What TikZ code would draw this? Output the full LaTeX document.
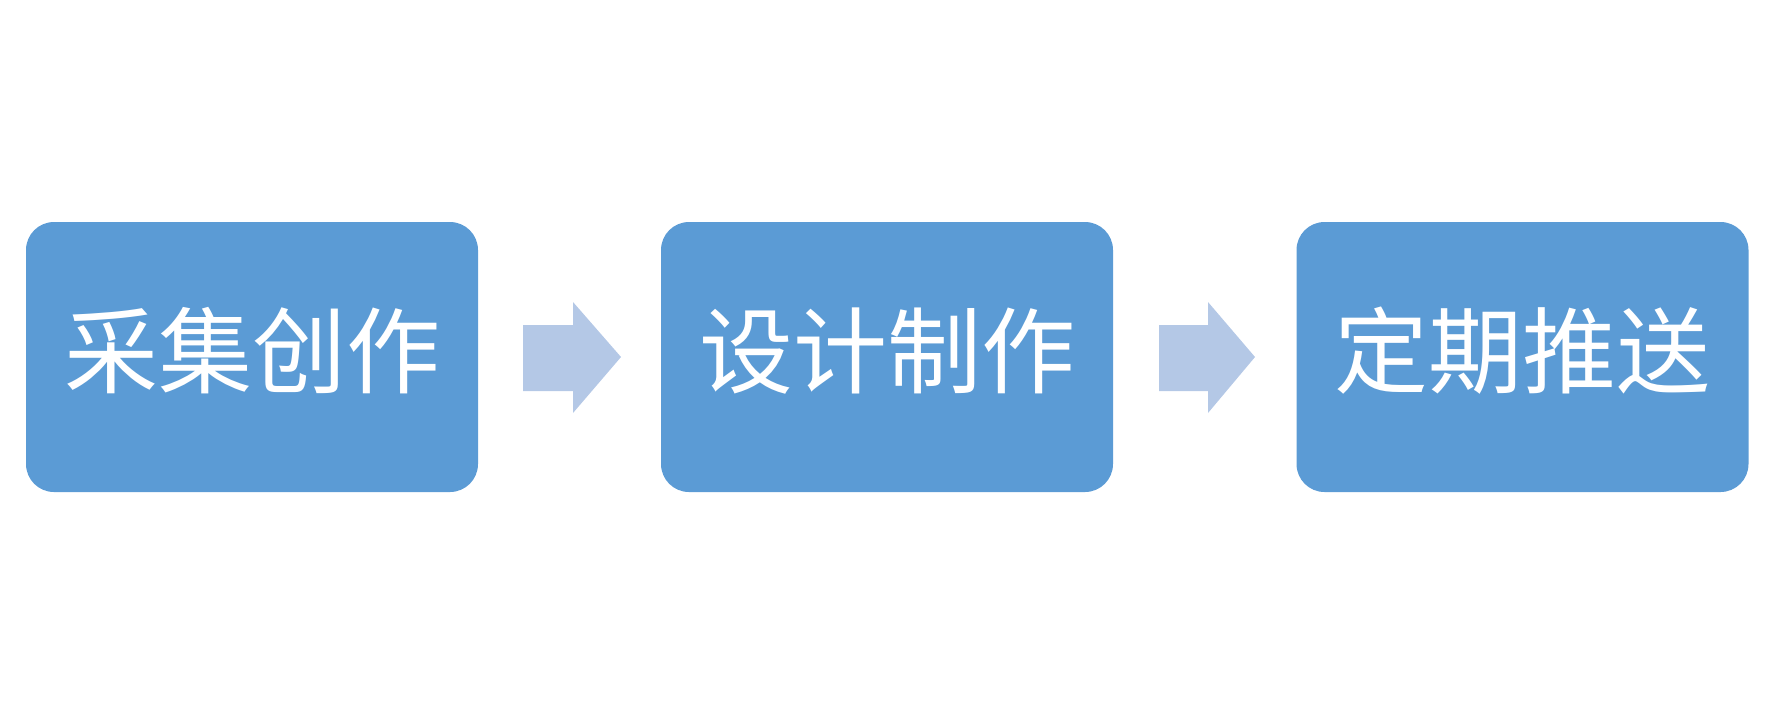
\documentclass[tikz,border=0pt]{standalone}
\usepackage{fontspec}
\usepackage{xcolor}
\usepackage{tikz}
\newfontfamily\cjk{Noto Sans CJK SC}
\definecolor{stepblue}{HTML}{5B9BD5}
\definecolor{arrowblue}{HTML}{B4C8E6}

\begin{document}
\begin{tikzpicture}[x=0.5pt, y=-0.5pt,
		stepbox/.style={fill=stepblue, rounded corners=14pt, minimum width=226pt, minimum height=135pt,
			text=white, font=\cjk\fontsize{47pt}{50pt}\selectfont, text height=29pt, text depth=0pt},
		blockarrow/.style={fill=arrowblue}]
		\useasboundingbox (0, 0) rectangle (1773, 714);

		\node[stepbox] (collect) at (252, 357) {采集创作};
		\node[stepbox] (design) at (887, 357) {设计制作};
		\node[stepbox] (push) at (1522.5, 357) {定期推送};

		\fill[blockarrow] (523, 325) -- (573, 325) -- (573, 302) -- (621, 357) -- (573, 413) -- (573, 391) -- (523, 391) -- cycle;
		\fill[blockarrow] (1159, 325) -- (1208, 325) -- (1208, 302) -- (1255, 357) -- (1208, 413) -- (1208, 391) -- (1159, 391) -- cycle;
	\end{tikzpicture}
\end{document}
